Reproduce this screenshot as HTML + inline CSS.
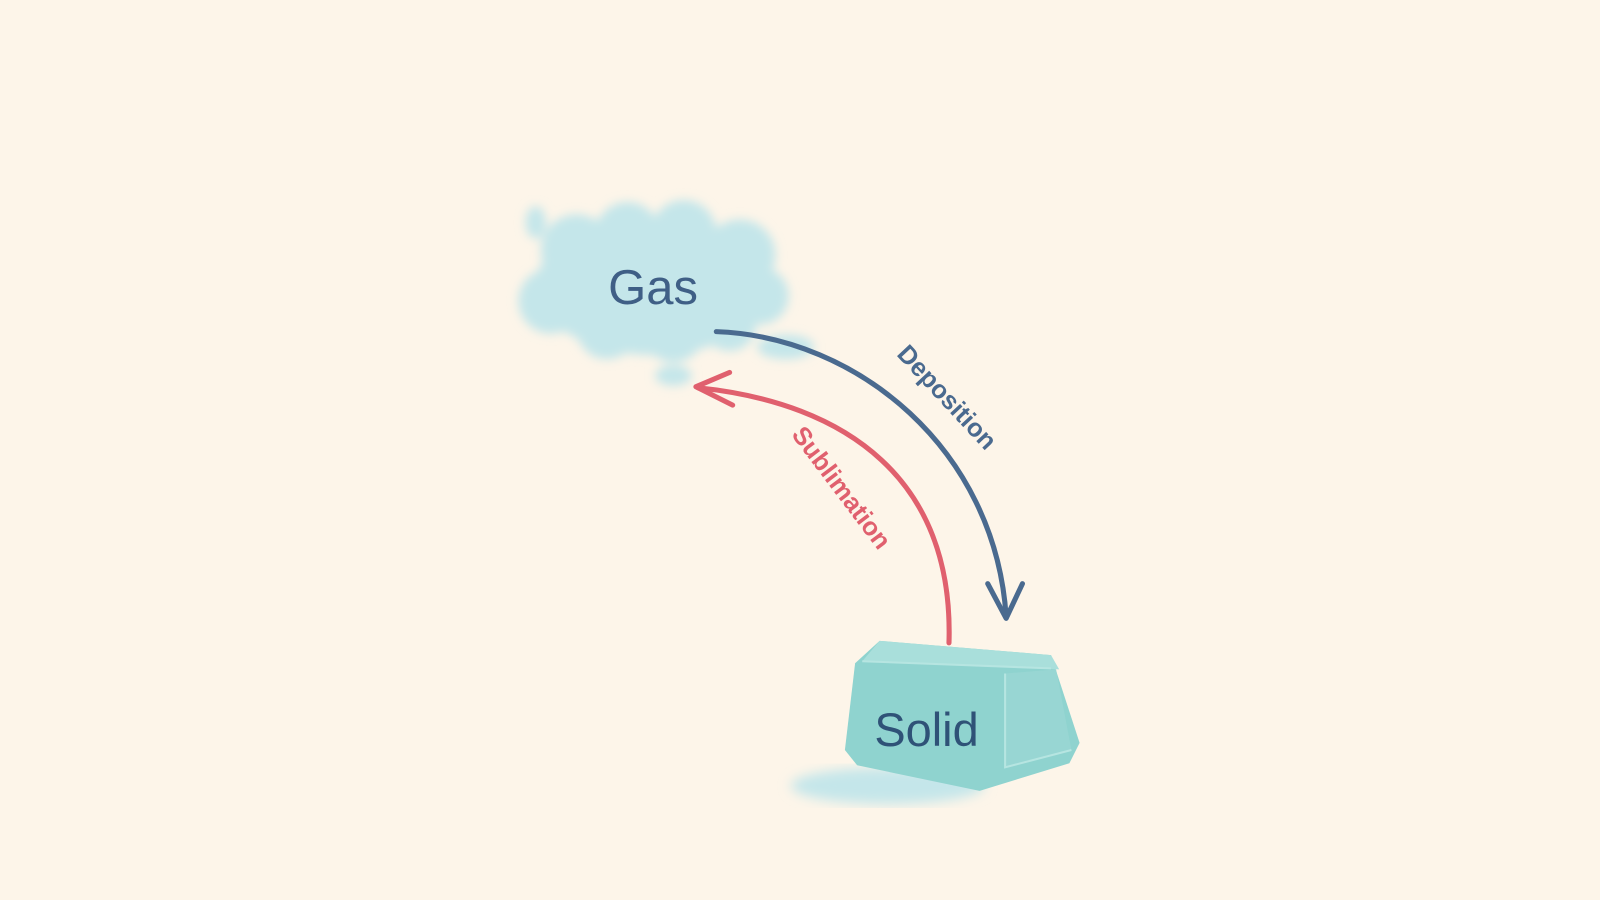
<!DOCTYPE html>
<html><head><meta charset="utf-8"><style>
html,body{margin:0;padding:0;background:#fdf5e9;}
svg{display:block;}
text{font-family:"Liberation Sans",sans-serif;}
</style></head><body>
<svg width="1600" height="900" viewBox="0 0 1568 882" preserveAspectRatio="none" xmlns="http://www.w3.org/2000/svg">
<defs>
<filter id="blur" x="-20%" y="-20%" width="140%" height="140%"><feGaussianBlur stdDeviation="5"/></filter>
<filter id="blur2"><feGaussianBlur stdDeviation="6"/></filter>
</defs>
<rect width="1568" height="882" fill="#fdf5e9"/>
<!-- cloud -->
<g fill="#c4e6ea" filter="url(#blur)">
<ellipse cx="640" cy="280" rx="115" ry="68"/>
<circle cx="565" cy="245" r="35"/>
<circle cx="615" cy="230" r="32"/>
<circle cx="670" cy="228" r="32"/>
<circle cx="725" cy="250" r="35"/>
<circle cx="745" cy="290" r="28"/>
<circle cx="540" cy="295" r="32"/>
<circle cx="595" cy="322" r="30"/>
<circle cx="660" cy="325" r="30"/>
<circle cx="715" cy="318" r="26"/>
<ellipse cx="770" cy="340" rx="28" ry="12"/>
<ellipse cx="660" cy="368" rx="18" ry="10"/>
<ellipse cx="525" cy="218" rx="10" ry="16"/>
</g>
<text x="640" y="298" font-size="48" fill="#3f5f86" text-anchor="middle">Gas</text>
<!-- shadow -->
<ellipse cx="870" cy="770" rx="95" ry="18" fill="#c4e6ea" filter="url(#blur2)"/>
<!-- block -->
<polygon points="862,628 1030,642 1058,728 1048,748 960,775 840,750 828,735 838,650" fill="#8fd3cf"/>
<polygon points="862,628 1030,642 1038,656 845,648" fill="#a9dfdb"/>
<polygon points="985,660 1035,656 1050,735 985,752" fill="#9ad7d3" opacity="0.8"/>
<polyline points="985,660 985,752 1050,735" stroke="#b6e5e1" stroke-width="2" fill="none"/>
<polyline points="845,648 1030,655" stroke="#b6e5e1" stroke-width="2" fill="none"/>
<text x="908" y="731" font-size="46" fill="#2f5277" text-anchor="middle">Solid</text>
<!-- deposition -->
<path d="M702,325 C840,330 975,440 986,604" stroke="#4a6a8f" stroke-width="5" fill="none" stroke-linecap="round"/>
<path d="M968,572 L986,606 L1002,572" stroke="#4a6a8f" stroke-width="5" fill="none" stroke-linecap="round" stroke-linejoin="round"/>
<text font-size="25" font-weight="bold" fill="#4a6a8f" text-anchor="middle" transform="translate(922,395) rotate(47)">Deposition</text>
<!-- sublimation -->
<path d="M930,630 C935,470 830,395 684,380" stroke="#e0606e" stroke-width="5" fill="none" stroke-linecap="round"/>
<path d="M715,365 L682,379 L718,397" stroke="#e0606e" stroke-width="5" fill="none" stroke-linecap="round" stroke-linejoin="round"/>
<text font-size="25" font-weight="bold" fill="#e0606e" text-anchor="middle" transform="translate(818,483) rotate(53)">Sublimation</text>
</svg>
</body></html>
